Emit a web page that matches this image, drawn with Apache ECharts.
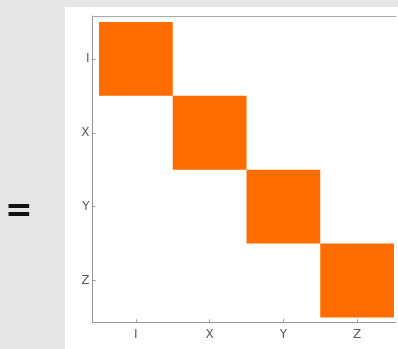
<!DOCTYPE html>
<html>
<head>
<meta charset="utf-8">
<script src="https://cdn.jsdelivr.net/npm/echarts@6/dist/echarts.min.js"></script>
<style>
  html, body { margin: 0; padding: 0; background: #e5e5e5; }
  #chart { width: 398px; height: 349px; }
</style>
</head>
<body>
<div id="chart"></div>
<script>
// Column and row labels of the matrix
const colLabels = ['I', 'X', 'Y', 'Z'];
const rowLabels = ['I', 'X', 'Y', 'Z'];
// Matrix entries, one row per row label
const rowI = [1, 0, 0, 0];
const rowX = [0, 1, 0, 0];
const rowY = [0, 0, 1, 0];
const rowZ = [0, 0, 0, 1];
const matrixRows = [rowI, rowX, rowY, rowZ];

const cells = [];
matrixRows.forEach((row, r) => {
  row.forEach((v, c) => cells.push([c, r, v]));
});

const tickPositions = colLabels.map((_, i) => i);
const xRange = { min: -0.588, max: 3.527 };

const chart = echarts.init(document.getElementById('chart'), null, { renderer: 'canvas' });

chart.setOption({
  backgroundColor: '#e5e5e5',
  animation: false,
  graphic: [
    {
      type: 'rect',
      z: -10,
      shape: { x: 65, y: 7, width: 340, height: 350 },
      style: { fill: '#ffffff' },
      silent: true
    },
    {
      type: 'text',
      left: 5,
      top: 196,
      style: {
        text: '=',
        fill: '#111111',
        font: 'bold 33px "DejaVu Sans"'
      }
    }
  ],
  grid: {
    left: 92.5,
    top: 16,
    right: 2,
    bottom: 26.7,
    show: false
  },
  xAxis: [{
    type: 'value',
    min: xRange.min,
    max: xRange.max,
    splitLine: { show: false },
    axisLine: { show: true, onZero: false, lineStyle: { color: '#999999', width: 1 } },
    axisTick: {
      show: true, inside: true, length: 3,
      customValues: tickPositions,
      lineStyle: { color: '#999999' }
    },
    axisLabel: {
      customValues: tickPositions,
      formatter: v => colLabels[Math.round(v)],
      color: '#5a5a5a',
      fontSize: 12,
      fontFamily: 'DejaVu Sans',
      margin: 7
    }
  }, {
    // plain frame line along the top of the plot
    type: 'value',
    position: 'top',
    min: xRange.min,
    max: xRange.max,
    splitLine: { show: false },
    axisLine: { show: true, onZero: false, lineStyle: { color: '#aaaaaa', width: 1 } },
    axisTick: { show: false },
    axisLabel: { show: false }
  }],
  yAxis: {
    type: 'value',
    inverse: true,
    min: -0.581,
    max: 3.565,
    splitLine: { show: false },
    axisLine: { show: true, onZero: false, lineStyle: { color: '#999999', width: 1 } },
    axisTick: {
      show: true, inside: true, length: 3,
      customValues: tickPositions,
      lineStyle: { color: '#999999' }
    },
    axisLabel: {
      customValues: tickPositions,
      formatter: v => rowLabels[Math.round(v)],
      color: '#5a5a5a',
      fontSize: 12,
      fontFamily: 'DejaVu Sans',
      margin: 3
    }
  },
  series: [{
    type: 'custom',
    data: cells,
    encode: { x: 0, y: 1 },
    renderItem: (params, api) => {
      const c = api.value(0), r = api.value(1), v = api.value(2);
      if (!v) return null;
      const p0 = api.coord([c - 0.5, r - 0.5]);
      const p1 = api.coord([c + 0.5, r + 0.5]);
      return {
        type: 'rect',
        shape: {
          x: Math.min(p0[0], p1[0]),
          y: Math.min(p0[1], p1[1]),
          width: Math.abs(p1[0] - p0[0]),
          height: Math.abs(p1[1] - p0[1])
        },
        style: { fill: '#ff6d00' }
      };
    }
  }]
});
</script>
</body>
</html>
